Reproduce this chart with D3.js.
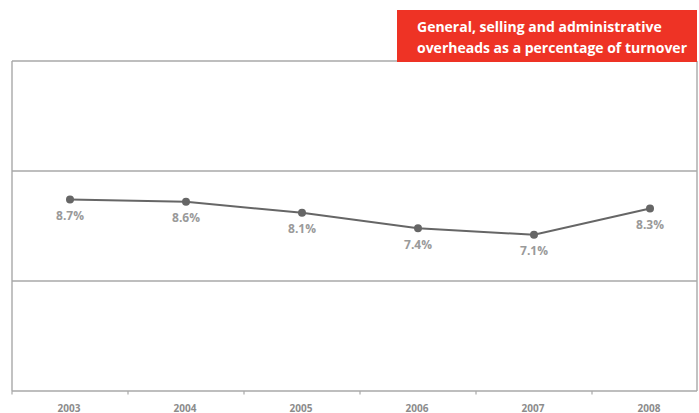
<!DOCTYPE html>
<html>
<head>
<meta charset="utf-8">
<script src="https://cdn.jsdelivr.net/npm/d3@7/dist/d3.min.js"></script>
<style>
  html, body { margin: 0; padding: 0; background: #fff; }
  svg { display: block; }
  text { font-family: "Open Sans", "Noto Sans", sans-serif; }
</style>
</head>
<body>
<svg id="chart" width="699" height="413"></svg>
<script>
// GS&A overheads as a share of turnover, by financial year
const years = ["2003", "2004", "2005", "2006", "2007", "2008"];
const overheadPct = [8.7, 8.6, 8.1, 7.4, 7.1, 8.3];
const gridValues = [0, 5, 10, 15];
const titleLines = ["General, selling and administrative", "overheads as a percentage of turnover"];

const svg = d3.select("#chart");
const frame = { left: 12, right: 697, top: 61, bottom: 391 };
const step = 116;

const x = d3.scaleBand()
  .domain(years)
  .range([frame.left, frame.left + step * years.length])
  .paddingInner(0).paddingOuter(0);

const y = d3.scaleLinear()
  .domain([0, 15])
  .range([frame.bottom, frame.top]);

const axisColor = "#a8a8a8";

// horizontal grid lines (the top one closes the frame)
svg.append("g")
  .selectAll("line")
  .data(gridValues.slice(1))
  .join("line")
  .attr("x1", frame.left).attr("x2", frame.right)
  .attr("y1", d => y(d)).attr("y2", d => y(d))
  .attr("stroke", axisColor).attr("stroke-width", 1.4);

// side borders
svg.append("g")
  .selectAll("line")
  .data([frame.left, frame.right])
  .join("line")
  .attr("x1", d => d).attr("x2", d => d)
  .attr("y1", frame.top).attr("y2", frame.bottom)
  .attr("stroke", axisColor).attr("stroke-width", 1.4);

// bottom axis with ticks on band boundaries
const xAxis = svg.append("g")
  .attr("transform", `translate(0,${y(0)})`);
xAxis.append("line")
  .attr("x1", frame.left).attr("x2", frame.right)
  .attr("stroke", axisColor).attr("stroke-width", 1.4);
xAxis.selectAll("line.tick")
  .data(years)
  .join("line")
  .attr("class", "tick")
  .attr("x1", d => x(d)).attr("x2", d => x(d))
  .attr("y1", 0).attr("y2", 3.5)
  .attr("stroke", axisColor).attr("stroke-width", 1.2);
xAxis.selectAll("text")
  .data(years)
  .join("text")
  .attr("x", d => x(d) + x.bandwidth() / 2 - 1)
  .attr("y", 16.5)
  .attr("text-anchor", "middle")
  .attr("dominant-baseline", "central")
  .attr("font-size", 10)
  .attr("font-weight", 700)
  .attr("fill", "#8c8c8c")
  .text(d => d);

// data line and markers
const pts = years.map((yr, i) => ({ yr, v: overheadPct[i] }));
const cx = d => x(d.yr) + x.bandwidth() / 2;

svg.append("path")
  .datum(pts)
  .attr("d", d3.line().x(cx).y(d => y(d.v)))
  .attr("fill", "none")
  .attr("stroke", "#666666")
  .attr("stroke-width", 2);

svg.append("g")
  .selectAll("circle")
  .data(pts)
  .join("circle")
  .attr("cx", cx)
  .attr("cy", d => y(d.v))
  .attr("r", 4)
  .attr("fill", "#666666");

svg.append("g")
  .selectAll("text")
  .data(pts)
  .join("text")
  .attr("x", cx)
  .attr("y", d => y(d.v) + 16)
  .attr("text-anchor", "middle")
  .attr("dominant-baseline", "central")
  .attr("font-size", 12)
  .attr("font-weight", 700)
  .attr("fill", "#9a9a9a")
  .text(d => d.v.toFixed(1) + "%");

// red title box in the top-right corner
const box = { x: 397, y: 10, w: 300, h: 52 };
svg.append("rect")
  .attr("x", box.x).attr("y", box.y)
  .attr("width", box.w).attr("height", box.h)
  .attr("fill", "#ee3325");

// title set at full size, then condensed horizontally to fit the box
const titleWidth = 270;
const titleTexts = titleLines.map((line, i) =>
  svg.append("text")
    .attr("x", box.x + 20)
    .attr("y", box.y + 16 + i * 21)
    .attr("dominant-baseline", "central")
    .attr("font-size", 14)
    .attr("font-weight", 700)
    .attr("fill", "#ffffff")
    .text(line));
const widths = titleTexts.map(t => t.node().getComputedTextLength());
const squeeze = titleWidth / d3.max(widths);
titleTexts.forEach((t, i) => {
  if (squeeze < 1) {
    t.attr("textLength", widths[i] * squeeze).attr("lengthAdjust", "spacingAndGlyphs");
  }
});
</script>
</body>
</html>
